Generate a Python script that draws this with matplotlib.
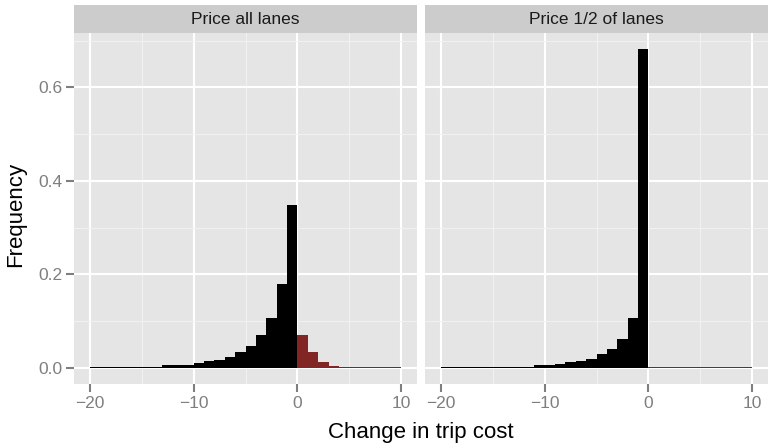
import matplotlib
matplotlib.use("Agg")
from matplotlib import pyplot as plt
import numpy as np

plt.rcParams['font.family'] = ['Liberation Sans', 'DejaVu Sans']

# histogram bins (left edges, width 1)
bin_edges = np.arange(-20, 11)
panels = ['Price all lanes', 'Price 1/2 of lanes']

freq_all = [0.002, 0.002, 0.002, 0.002, 0.002, 0.003, 0.003, 0.006, 0.006, 0.007,
            0.010, 0.014, 0.018, 0.024, 0.034, 0.048, 0.070, 0.106, 0.180, 0.349,
            0.070, 0.034, 0.012, 0.004, 0.002, 0.002, 0.002, 0.002, 0.002, 0.002]
freq_half = [0.002, 0.002, 0.002, 0.002, 0.002, 0.002, 0.002, 0.003, 0.003, 0.006,
             0.006, 0.008, 0.012, 0.016, 0.020, 0.029, 0.041, 0.063, 0.108, 0.682,
             0.002, 0.002, 0.002, 0.002, 0.002, 0.002, 0.002, 0.002, 0.002, 0.002]
series = [freq_all, freq_half]

W, H = 768, 444
fig = plt.figure(figsize=(W / 100, H / 100), dpi=100)

ymax = max(max(freq_all), max(freq_half))
ylim = (-0.05 * ymax, 1.05 * ymax)
left_px = [74, 425]
panel_w = 343
top_px, bot_px, strip_top = 33, 384, 5
grey = '#7F7F7F'

for i, (name, vals) in enumerate(zip(panels, series)):
    ax = fig.add_axes([left_px[i] / W, (H - bot_px) / H, panel_w / W, (bot_px - top_px) / H])
    ax.set_facecolor('#E5E5E5')
    for s in ax.spines.values():
        s.set_visible(False)
    lefts = bin_edges[:-1]
    colors = ['black' if x < 0 else '#822525' for x in lefts]
    ax.bar(lefts, vals, width=1, align='edge', color=colors, linewidth=0, zorder=3)
    ax.set_xlim(-21.5, 11.5)
    ax.set_ylim(*ylim)
    ax.set_xticks([-20, -10, 0, 10])
    ax.set_xticklabels(['\u221220', '\u221210', '0', '10'])
    ax.set_xticks([-15, -5, 5], minor=True)
    ax.set_yticks([0, 0.2, 0.4, 0.6])
    ax.set_yticks([0.1, 0.3, 0.5, 0.7], minor=True)
    ax.grid(which='major', color='white', linewidth=1.5, zorder=1)
    ax.grid(which='minor', color='#F2F2F2', linewidth=0.7, zorder=1)
    ax.tick_params(which='major', length=5.5, width=1.5, color=grey, labelcolor=grey,
                   labelsize=12.5, pad=3)
    ax.tick_params(which='minor', length=0)
    if i == 0:
        ax.set_yticklabels(['0.0', '0.2', '0.4', '0.6'])
    else:
        ax.tick_params(axis='y', which='major', length=0, labelleft=False)

    # facet strip
    sax = fig.add_axes([left_px[i] / W, (H - top_px) / H, panel_w / W, (top_px - strip_top) / H])
    sax.set_facecolor('#CCCCCC')
    sax.set_xticks([])
    sax.set_yticks([])
    for s in sax.spines.values():
        s.set_visible(False)
    sax.text(0.5, 0.48, name, ha='center', va='center', fontsize=12.5, color='#1A1A1A',
             transform=sax.transAxes)

fig.text((74 + 767) / 2 / W, (H - 432) / H, 'Change in trip cost', ha='center',
         va='center', fontsize=16)
fig.text(16 / W, (H - 214) / H, 'Frequency', ha='center', va='center',
         rotation=90, fontsize=16)

fig.savefig('out.png', dpi=100)
